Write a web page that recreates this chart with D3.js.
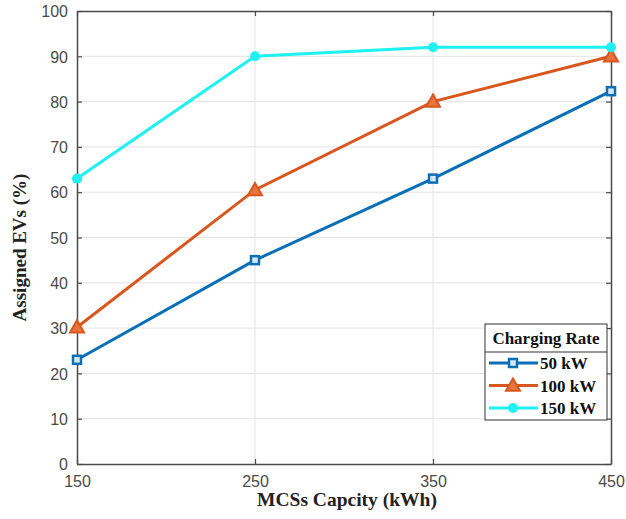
<!DOCTYPE html>
<html><head><meta charset="utf-8">
<script src="https://cdn.jsdelivr.net/npm/d3@7/dist/d3.min.js"></script>
<style>body{margin:0;background:#fff}svg{display:block}</style>
</head><body>
<svg id="c" width="626" height="519"></svg>
<script>
const capacity = [150, 250, 350, 450];
const s50 = [23, 45, 63, 82.3];
const s100 = [30.2, 60.5, 80, 90];
const s150 = [63, 90, 92, 92];
const seriesNames = ["50 kW", "100 kW", "150 kW"];
const yTicks = [0,10,20,30,40,50,60,70,80,90,100];
const xTicks = [150, 250, 350, 450];

const series = [
  {name: seriesNames[0], values: s50, color: "#0a6fb5", marker: "square"},
  {name: seriesNames[1], values: s100, color: "#d9561d", marker: "triangle"},
  {name: seriesNames[2], values: s150, color: "#1ff0f0", marker: "circle"}
];

const svg = d3.select("#c");
const L = 77, R = 611, T = 11, B = 464;
const x = d3.scaleLinear().domain([150, 450]).range([L, R]);
const y = d3.scaleLinear().domain([0, 100]).range([B, T]);
const axisColor = "#4a4a4a";

// grid
const g = svg.append("g");
g.selectAll(".gy").data(yTicks.slice(1, -1)).join("line")
  .attr("x1", L).attr("x2", R).attr("y1", d => y(d)).attr("y2", d => y(d))
  .attr("stroke", "#e3e3e3").attr("stroke-width", 1);
g.selectAll(".gx").data(xTicks.slice(1, -1)).join("line")
  .attr("y1", T).attr("y2", B).attr("x1", d => x(d)).attr("x2", d => x(d))
  .attr("stroke", "#e3e3e3").attr("stroke-width", 1);

// axes
const ax = svg.append("g").attr("transform", `translate(0,${B})`)
  .call(d3.axisBottom(x).tickValues(xTicks).tickSize(-5).tickPadding(12).tickSizeOuter(0));
const ay = svg.append("g").attr("transform", `translate(${L},0)`)
  .call(d3.axisLeft(y).tickValues(yTicks).tickSize(-5).tickPadding(9).tickSizeOuter(0));
const ayr = svg.append("g").attr("transform", `translate(${R},0)`)
  .call(d3.axisRight(y).tickValues(yTicks).tickSize(-5).tickFormat("").tickSizeOuter(0));
const axt = svg.append("g").attr("transform", `translate(0,${T})`)
  .call(d3.axisTop(x).tickValues(xTicks).tickSize(-5).tickFormat("").tickSizeOuter(0));
[ax, ay, ayr, axt].forEach(a => {
  a.selectAll("path").attr("stroke", axisColor).attr("stroke-width", 1.5);
  a.selectAll("line").attr("stroke", axisColor).attr("stroke-width", 1.2);
  a.selectAll("text").attr("fill", "#4a4a4a").attr("font-family", "Liberation Sans, Arial, sans-serif").attr("font-size", 16);
});
ax.selectAll("text").attr("dy", "0.71em");
ay.selectAll("text").attr("dy", "0.36em");

// axis titles
svg.append("text").attr("x", (L + R) / 2 + 3).attr("y", 506).attr("text-anchor", "middle")
  .attr("font-family", "Liberation Serif, Times New Roman, serif").attr("font-weight", "bold")
  .attr("font-size", 19.5).attr("fill", "#222").text("MCSs Capcity (kWh)");
svg.append("text").attr("transform", `translate(26,${(T + B) / 2 + 10}) rotate(-90)`)
  .attr("text-anchor", "middle")
  .attr("font-family", "Liberation Serif, Times New Roman, serif").attr("font-weight", "bold")
  .attr("font-size", 19).attr("fill", "#222").text("Assigned EVs (%)");

// lines and markers
const line = d3.line().x((d, i) => x(capacity[i])).y(d => y(d));
function drawMarker(sel, type, color, cx, cy) {
  if (type === "square") {
    sel.append("rect").attr("x", cx - 4).attr("y", cy - 4).attr("width", 8).attr("height", 8)
      .attr("fill", "#d6e8f5").attr("stroke", color).attr("stroke-width", 2.5);
  } else if (type === "triangle") {
    const s = 7;
    sel.append("path").attr("d", `M${cx},${cy - s}L${cx + s},${cy + s * 0.75}L${cx - s},${cy + s * 0.75}Z`)
      .attr("fill", "#e8743f").attr("stroke", color).attr("stroke-width", 2);
  } else {
    sel.append("circle").attr("cx", cx).attr("cy", cy).attr("r", 5).attr("fill", color);
  }
}
series.forEach(s => {
  svg.append("path").datum(s.values).attr("d", line).attr("fill", "none")
    .attr("stroke", s.color).attr("stroke-width", 3);
  const mg = svg.append("g");
  s.values.forEach((v, i) => drawMarker(mg, s.marker, s.color, x(capacity[i]), y(v)));
});

// legend
const lg = svg.append("g");
const lx = 485, ly = 324, lw = 122, lh = 96;
lg.append("rect").attr("x", lx).attr("y", ly).attr("width", lw).attr("height", lh)
  .attr("fill", "#fff").attr("stroke", "#333").attr("stroke-width", 1);
lg.append("line").attr("x1", lx).attr("x2", lx + lw).attr("y1", ly + 28).attr("y2", ly + 28)
  .attr("stroke", "#333").attr("stroke-width", 1);
lg.append("text").attr("x", lx + lw / 2).attr("y", ly + 20).attr("text-anchor", "middle")
  .attr("font-family", "Liberation Serif, Times New Roman, serif").attr("font-weight", "bold")
  .attr("font-size", 17).attr("fill", "#111").text("Charging Rate");
series.forEach((s, i) => {
  const yy = ly + 39 + i * 22.5;
  lg.append("line").attr("x1", lx + 4).attr("x2", lx + 53).attr("y1", yy).attr("y2", yy)
    .attr("stroke", s.color).attr("stroke-width", 3);
  drawMarker(lg, s.marker, s.color, lx + 28, yy);
  lg.append("text").attr("x", lx + 55).attr("y", yy + 6)
    .attr("font-family", "Liberation Serif, Times New Roman, serif").attr("font-weight", "bold")
    .attr("font-size", 17).attr("fill", "#111").text(s.name);
});
</script>
</body></html>
